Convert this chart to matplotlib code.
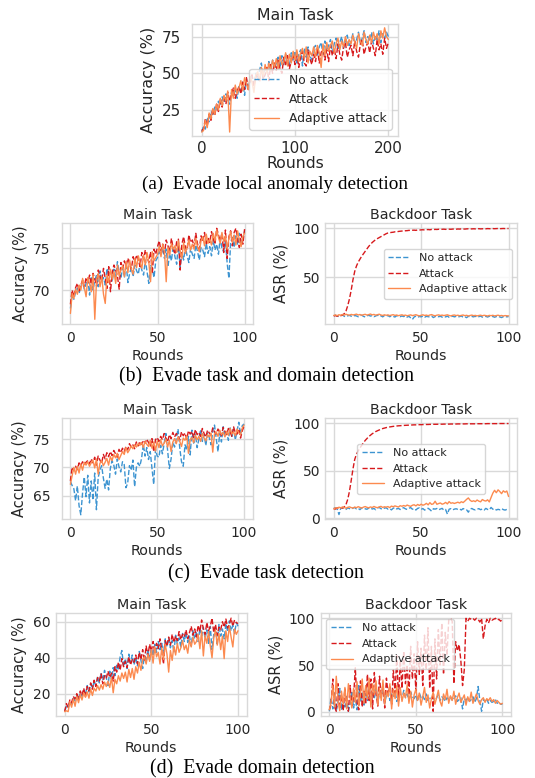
import numpy as np
import matplotlib
matplotlib.use("Agg")
import matplotlib.pyplot as plt
import seaborn as sns

sns.set_style("whitegrid")
plt.rcParams["font.family"] = ["DejaVu Sans"]

# ---------------- data ----------------
labels = ["No attack", "Attack", "Adaptive attack"]

# (a) rounds 0..200 step 2
a_no = [10, 14, 12, 20, 17, 24, 22, 27, 25, 31,
        28, 34, 30, 36, 32, 29, 37, 34, 40, 33,
        41, 37, 44, 35, 46, 40, 45, 48, 42, 50,
        46, 52, 57, 47, 55, 50, 58, 51, 59, 53,
        57, 61, 54, 62, 56, 63, 58, 55, 64, 59,
        65, 57, 63, 66, 55, 67, 61, 68, 62, 59,
        67, 69, 62, 68, 71, 63, 72, 65, 69, 73,
        64, 70, 74, 66, 71, 75, 67, 72, 76, 68,
        72, 77, 69, 73, 78, 70, 74, 79, 71, 75,
        72, 78, 70, 76, 73, 79, 71, 77, 74, 78,
        75]
a_att = [11, 12, 19, 14, 22, 18, 26, 21, 29, 24,
         32, 27, 35, 29, 37, 31, 36, 40, 33, 38,
         41, 36, 44, 39, 47, 38, 46, 49, 41, 47,
         50, 44, 52, 46, 49, 54, 45, 56, 50, 57,
         52, 59, 53, 50, 61, 55, 62, 53, 58, 63,
         56, 64, 54, 61, 65, 57, 55, 66, 60, 56,
         63, 58, 67, 57, 64, 68, 59, 66, 58, 69,
         62, 67, 60, 70, 63, 59, 68, 71, 61, 66,
         69, 62, 72, 65, 61, 70, 73, 63, 68, 71,
         64, 72, 67, 62, 73, 66, 70, 63, 74, 67,
         71]
a_ada = [10, 11, 18, 13, 23, 19, 26, 22, 29, 25,
         33, 28, 35, 31, 38, 10, 39, 33, 42, 36,
         40, 45, 38, 47, 43, 39, 48, 44, 37, 49,
         51, 45, 54, 48, 56, 50, 57, 52, 59, 54,
         60, 53, 62, 56, 58, 64, 55, 63, 57, 65,
         59, 66, 58, 64, 67, 60, 68, 57, 65, 62,
         68, 61, 69, 64, 54, 70, 62, 71, 65, 69,
         72, 64, 70, 74, 66, 72, 68, 75, 69, 73,
         70, 76, 71, 67, 77, 72, 69, 78, 73, 70,
         76, 71, 78, 73, 77, 70, 79, 74, 81, 75,
         73]

# (b) main task
b_main_no = [67.8, 69.5, 68.9, 69.8, 70.2, 69.6, 70.5, 71.0, 70.1, 70.8,
             71.3, 69.4, 71.6, 70.0, 71.2, 71.8, 70.4, 72.3, 71.0, 71.5,
             70.6, 72.6, 71.8, 72.2, 71.0, 72.5, 71.6, 73.4, 72.0, 71.4,
             72.8, 71.5, 73.2, 70.9, 72.0, 72.7, 71.6, 73.0, 72.3, 71.9,
             73.3, 72.4, 71.8, 73.6, 72.2, 70.8, 73.0, 72.6, 71.5, 73.5,
             73.9, 74.6, 74.2, 75.0, 73.8, 74.9, 72.8, 74.4, 73.5, 75.3,
             74.0, 73.1, 75.6, 72.7, 74.5, 73.6, 75.2, 74.1, 73.3, 75.0,
             74.3, 73.8, 75.4, 74.6, 73.6, 75.1, 74.8, 74.0, 75.6, 74.4,
             75.2, 74.1, 76.0, 74.8, 75.5, 74.3, 76.2, 75.0, 74.6, 75.9,
             73.2, 71.4, 75.8, 76.3, 75.1, 76.5, 75.4, 76.8, 75.7, 76.2,
             77.0]
b_main_att = [68.3, 70.0, 69.2, 70.3, 70.8, 69.8, 70.6, 71.2, 70.4, 71.5,
              70.9, 71.8, 70.7, 72.0, 71.3, 70.5, 72.4, 71.6, 71.1, 72.6,
              71.4, 70.2, 72.8, 69.8, 72.1, 73.0, 72.4, 71.7, 70.1, 73.3,
              72.6, 73.5, 72.9, 73.8, 73.1, 72.5, 74.0, 73.4, 74.2, 73.6,
              72.8, 74.5, 73.7, 74.8, 74.0, 73.3, 74.6, 72.0, 74.9, 74.3,
              75.2, 75.9, 74.7, 75.5, 74.4, 76.0, 75.3, 74.6, 76.2, 75.0,
              74.3, 75.8, 76.1, 72.4, 75.5, 76.4, 75.1, 74.8, 76.6, 75.7,
              76.0, 75.2, 76.8, 75.5, 74.9, 76.5, 75.8, 76.9, 75.4, 76.3,
              75.7, 77.0, 76.2, 75.5, 77.4, 76.6, 75.9, 76.8, 74.5, 77.2,
              73.8, 76.4, 77.1, 75.3, 76.9, 77.4, 76.0, 75.1, 76.7, 75.5,
              77.3]
b_main_ada = [67.2, 69.6, 69.0, 70.1, 69.5, 70.6, 70.0, 71.4, 70.3, 69.2,
              71.5, 70.8, 69.8, 71.9, 66.5, 71.2, 72.0, 70.4, 71.6, 69.5,
              68.4, 71.8, 70.9, 72.5, 71.3, 72.2, 70.8, 73.0, 71.7, 72.4,
              72.9, 71.6, 73.4, 72.1, 73.6, 72.5, 71.9, 73.8, 72.7, 74.1,
              73.3, 72.6, 74.2, 73.0, 74.5, 73.4, 71.0, 74.6, 73.5, 73.9,
              74.3, 75.2, 74.0, 75.5, 74.6, 71.0, 75.1, 74.2, 75.6, 74.9,
              75.3, 74.5, 75.9, 74.7, 73.8, 75.7, 74.4, 75.2, 76.0, 74.8,
              75.5, 74.9, 76.2, 75.1, 74.6, 75.9, 76.4, 75.3, 76.7, 75.6,
              76.1, 75.4, 76.8, 75.9, 77.2, 76.3, 75.6, 76.9, 75.8, 76.5,
              74.9, 76.2, 77.0, 75.7, 76.6, 75.4, 77.1, 76.0, 75.2, 76.4,
              76.8]

# (b) backdoor task
b_bd_no = [10.8, 11.2, 10.4, 9.8, 10.9, 11.5, 10.2, 9.6, 10.7, 11.1,
           10.3, 9.9, 11.0, 10.5, 9.7, 10.8, 11.3, 10.1, 9.5, 10.6,
           11.2, 10.4, 10.9, 9.8, 10.5, 11.4, 10.0, 10.7, 9.6, 10.9,
           10.3, 11.0, 9.7, 10.6, 10.1, 9.4, 10.8, 10.2, 9.8, 10.5,
           9.9, 10.6, 9.3, 10.2, 8.6, 7.0, 9.5, 10.3, 9.1, 10.0,
           9.6, 10.4, 9.2, 10.1, 9.8, 9.4, 10.3, 8.9, 9.9, 10.5,
           9.7, 10.2, 9.3, 10.0, 9.5, 10.4, 9.1, 9.8, 10.3, 9.6,
           10.1, 9.4, 9.9, 10.5, 9.2, 9.7, 8.8, 10.2, 9.5, 10.0,
           9.6, 10.3, 9.1, 9.8, 10.4, 9.3, 9.9, 10.1, 9.4, 10.2,
           9.7, 10.0, 9.2, 9.9, 10.3, 9.5, 8.9, 9.8, 10.1, 9.6,
           9.9]
b_bd_att = [10.5, 11.0, 10.2, 11.3, 10.8, 11.5, 12.8, 15.5, 21.0, 28.0,
            37.0, 47.5, 56.0, 61.5, 65.5, 68.5, 71.5, 74.0, 76.5, 79.0,
            81.5, 83.5, 85.5, 87.0, 88.5, 89.5, 90.5, 91.5, 92.5, 93.5,
            94.5, 95.2, 95.5, 95.8, 96.0, 96.4, 96.3, 96.8, 97.0, 97.2,
            97.1, 97.5, 97.6, 97.9, 97.8, 98.0, 98.1, 97.9, 98.3, 98.2,
            98.4, 98.5, 98.3, 98.6, 98.7, 98.5, 98.8, 98.7, 98.9, 98.8,
            99.0, 98.9, 99.0, 99.1, 98.9, 99.2, 99.1, 99.0, 99.2, 99.3,
            99.1, 99.3, 99.2, 99.4, 99.3, 99.2, 99.4, 99.5, 99.3, 99.4,
            99.5, 99.4, 99.5, 99.6, 99.4, 99.5, 99.6, 99.5, 99.7, 99.6,
            99.5, 99.7, 99.6, 99.7, 99.8, 99.6, 99.7, 99.8, 99.7, 99.8,
            99.8]
b_bd_ada = [11.0, 11.5, 10.8, 11.8, 11.2, 12.0, 11.4, 12.3, 11.7, 11.3,
            12.1, 11.6, 11.9, 12.4, 11.5, 12.0, 11.2, 11.8, 12.2, 11.4,
            11.9, 12.5, 11.6, 12.1, 11.3, 11.8, 12.3, 11.5, 11.0, 11.7,
            11.2, 11.6, 10.9, 11.4, 11.8, 11.1, 11.5, 10.8, 11.3, 11.7,
            11.0, 11.4, 10.7, 11.2, 11.6, 10.9, 11.3, 11.8, 11.1, 10.6,
            11.2, 11.7, 11.0, 11.4, 10.8, 11.5, 11.9, 11.1, 10.7, 11.3,
            11.6, 11.0, 11.4, 10.9, 11.3, 11.7, 11.0, 10.6, 11.2, 11.5,
            10.9, 11.3, 10.7, 11.1, 11.5, 10.8, 11.2, 10.5, 11.0, 11.4,
            10.8, 11.1, 10.6, 11.0, 11.3, 10.7, 11.2, 10.9, 10.5, 11.1,
            10.8, 11.2, 10.6, 10.9, 11.3, 10.7, 11.0, 10.5, 10.9, 10.7,
            10.6]

# (c) main task
c_main_no = [67.5, 66.8, 66.2, 64.1, 66.7, 63.2, 61.6, 65.4, 68.3, 64.8,
             68.6, 63.7, 67.6, 64.2, 69.0, 62.5, 68.2, 69.5, 70.3, 68.1,
             66.3, 67.9, 66.0, 69.8, 71.2, 70.4, 68.8, 71.5, 70.1, 69.2,
             71.0, 70.5, 66.4, 67.2, 70.3, 69.5, 71.3, 66.6, 70.0, 70.8,
             70.2, 71.6, 74.1, 72.0, 73.5, 71.4, 72.8, 69.8, 67.0, 73.2,
             72.0, 71.8, 73.9, 72.4, 74.2, 76.0, 73.0, 69.8, 71.5, 74.5,
             73.6, 75.2, 76.8, 73.4, 71.0, 70.2, 74.0, 73.1, 75.5, 72.2,
             76.6, 74.3, 75.9, 73.5, 75.0, 76.7, 74.6, 75.8, 73.9, 76.1,
             75.3, 74.0, 76.4, 77.5, 75.1, 72.8, 76.0, 74.5, 77.2, 75.6,
             76.3, 74.8, 77.0, 75.5, 76.8, 74.9, 76.5, 78.0, 75.8, 77.4,
             77.7]
c_main_att = [67.6, 70.0, 69.4, 70.2, 69.6, 70.8, 70.3, 71.0, 70.5, 70.9,
              71.2, 70.6, 71.5, 70.8, 71.8, 70.4, 72.0, 71.3, 70.7, 72.3,
              71.5, 72.6, 71.9, 72.8, 72.1, 73.0, 72.4, 71.8, 73.2, 72.6,
              73.4, 72.8, 73.7, 73.1, 74.2, 73.6, 74.0, 73.3, 74.5, 73.8,
              74.6, 74.1, 74.8, 74.3, 75.0, 74.4, 73.7, 75.1, 72.8, 74.9,
              75.3, 74.6, 75.5, 74.9, 76.0, 75.2, 74.5, 75.8, 75.1, 76.2,
              75.4, 76.0, 75.7, 74.8, 76.3, 75.6, 76.1, 75.0, 76.5, 75.9,
              76.4, 75.3, 76.7, 75.8, 76.2, 75.5, 76.9, 76.0, 75.4, 76.6,
              76.1, 75.7, 77.0, 76.3, 75.9, 76.8, 76.2, 75.6, 77.1, 76.4,
              75.8, 76.9, 76.3, 75.5, 77.2, 76.1, 75.9, 76.8, 75.2, 76.5,
              77.3]
c_main_ada = [67.0, 68.5, 70.0, 68.8, 70.2, 69.0, 70.6, 69.5, 70.9, 70.4,
              71.0, 70.2, 70.8, 71.3, 69.9, 71.5, 68.8, 70.7, 71.2, 70.3,
              70.9, 71.6, 70.4, 71.9, 71.2, 72.3, 71.7, 72.5, 71.4, 72.1,
              72.8, 72.3, 73.5, 72.6, 73.1, 73.8, 73.3, 74.0, 73.6, 74.2,
              73.9, 74.4, 73.5, 74.6, 74.1, 73.7, 74.8, 73.4, 74.5, 72.9,
              74.7, 73.5, 74.9, 73.8, 74.3, 75.0, 73.6, 74.8, 72.8, 74.5,
              75.1, 74.2, 75.4, 74.6, 73.7, 75.2, 74.8, 75.6, 72.5, 74.9,
              75.3, 74.4, 75.7, 74.9, 75.5, 74.6, 76.0, 75.2, 74.7, 75.8,
              75.4, 76.1, 72.7, 75.9, 76.3, 75.5, 76.6, 75.8, 76.2, 75.4,
              76.4, 75.7, 76.9, 75.9, 76.3, 75.6, 76.8, 76.1, 75.8, 77.0,
              77.5]

# (c) backdoor task
c_bd_no = [10.5, 11.2, 9.8, 4.0, 10.6, 11.5, 10.1, 9.4, 11.0, 10.3,
           9.7, 10.8, 11.4, 9.9, 10.5, 9.2, 10.9, 11.3, 10.0, 9.6,
           10.7, 11.2, 9.8, 10.4, 9.1, 10.9, 11.5, 10.2, 9.5, 10.8,
           11.1, 9.7, 10.3, 8.9, 10.6, 11.4, 9.9, 10.5, 9.3, 10.8,
           11.2, 10.0, 9.4, 10.7, 11.3, 9.6, 10.2, 8.8, 10.5, 11.0,
           9.5, 10.3, 8.7, 9.9, 10.6, 9.2, 7.5, 10.1, 9.7, 10.4,
           9.0, 9.8, 10.5, 8.6, 9.3, 4.5, 9.6, 10.2, 8.9, 9.7,
           10.1, 9.4, 9.9, 8.8, 10.3, 9.5, 9.0, 6.5, 9.8, 10.4,
           9.3, 8.9, 9.7, 10.2, 9.1, 9.8, 8.7, 10.5, 9.4, 9.0,
           11.5, 9.6, 10.1, 8.8, 9.5, 9.0, 10.3, 9.2, 8.7, 9.4,
           8.9]
c_bd_att = [10.2, 9.8, 11.0, 10.5, 11.3, 10.8, 12.0, 14.5, 20.0, 28.5,
            40.0, 52.0, 62.0, 67.5, 71.0, 74.0, 77.0, 79.5, 82.0, 84.0,
            86.0, 87.5, 89.0, 90.2, 91.3, 92.2, 93.0, 93.8, 94.5, 95.0,
            95.5, 95.9, 96.2, 96.5, 96.8, 97.0, 97.2, 97.4, 97.5, 97.7,
            97.8, 97.9, 98.0, 98.1, 98.2, 98.3, 98.4, 98.4, 98.5, 98.6,
            98.6, 98.7, 98.7, 98.8, 98.8, 98.9, 98.9, 99.0, 99.0, 99.0,
            99.1, 99.1, 99.1, 99.2, 99.2, 99.2, 99.2, 99.3, 99.3, 99.3,
            99.3, 99.4, 99.4, 99.4, 99.4, 99.4, 99.5, 99.5, 99.5, 99.5,
            99.5, 99.5, 99.6, 99.6, 99.6, 99.6, 99.6, 99.6, 99.7, 99.7,
            99.7, 99.7, 99.7, 99.7, 99.7, 99.8, 99.8, 99.8, 99.8, 99.8,
            99.8]
c_bd_ada = [10.0, 11.2, 10.5, 11.8, 10.9, 12.0, 11.4, 10.7, 11.6, 12.1,
            11.3, 10.8, 11.9, 11.2, 12.3, 11.5, 10.9, 11.8, 12.4, 11.6,
            11.1, 12.0, 11.4, 12.5, 11.7, 11.2, 12.1, 12.6, 11.5, 12.2,
            11.8, 12.4, 11.3, 12.9, 12.2, 13.1, 12.5, 11.9, 13.3, 12.7,
            13.5, 12.8, 14.0, 13.2, 12.6, 13.8, 14.3, 13.1, 14.6, 13.6,
            14.9, 13.8, 14.5, 15.8, 14.2, 16.5, 14.7, 15.3, 18.0, 14.8,
            15.6, 16.2, 14.9, 15.5, 16.8, 15.2, 17.6, 15.9, 16.4, 15.7,
            16.3, 17.0, 16.1, 17.5, 16.6, 18.2, 20.0, 21.5, 19.0, 17.8,
            18.5, 17.6, 19.3, 18.1, 17.4, 19.8, 18.7, 18.2, 19.5, 17.3,
            22.0, 26.5, 29.5, 27.0, 30.0, 28.2, 26.0, 29.0, 27.5, 28.8,
            23.0]

# (d) main task
d_main_no = [10.5, 13.0, 12.0, 15.5, 14.0, 17.5, 16.0, 19.0, 17.0, 20.5,
             18.5, 22.0, 19.5, 24.5, 21.0, 25.5, 23.0, 27.0, 24.5, 29.5,
             26.0, 31.5, 27.5, 33.0, 29.0, 24.5, 32.5, 28.0, 34.5, 30.0,
             36.5, 33.0, 40.5, 44.0, 35.0, 39.5, 34.0, 42.0, 37.0, 41.5,
             36.0, 40.0, 35.5, 43.5, 38.5, 34.0, 41.0, 37.5, 44.5, 39.0,
             45.5, 41.0, 47.5, 43.0, 49.0, 44.5, 48.0, 42.0, 50.5, 46.0,
             51.0, 45.5, 49.5, 43.0, 52.5, 47.5, 51.0, 46.0, 53.5, 49.0,
             54.0, 48.5, 52.0, 46.5, 55.0, 50.5, 54.5, 49.0, 56.5, 52.0,
             57.0, 50.5, 55.5, 48.0, 57.5, 44.5, 53.0, 56.5, 47.0, 58.5,
             52.0, 56.0, 50.5, 59.0, 54.5, 60.5, 55.0, 58.0, 53.5, 59.5,
             57.5]
d_main_att = [10.0, 14.5, 12.5, 16.5, 15.0, 18.5, 17.0, 20.0, 16.5, 21.5,
              19.0, 23.0, 18.5, 24.0, 21.5, 26.0, 22.5, 27.5, 24.0, 29.0,
              27.0, 31.0, 25.5, 30.0, 28.5, 32.5, 29.0, 31.5, 27.0, 35.0,
              32.0, 37.5, 33.0, 39.5, 35.0, 38.0, 34.5, 40.5, 36.0, 39.0,
              37.5, 41.5, 36.5, 43.0, 39.0, 44.5, 38.0, 46.5, 41.0, 47.5,
              43.5, 49.0, 42.5, 48.0, 45.0, 50.5, 44.0, 36.5, 49.5, 46.5,
              51.5, 47.0, 53.0, 48.5, 52.0, 49.5, 54.5, 50.0, 53.0, 51.5,
              55.5, 50.5, 54.0, 57.5, 52.5, 56.0, 51.5, 58.0, 54.5, 61.0,
              56.0, 53.0, 59.5, 55.0, 57.5, 62.0, 54.0, 58.5, 52.5, 57.0,
              55.5, 60.0, 57.0, 61.5, 56.5, 58.5, 62.0, 57.5, 61.0, 59.5,
              59.0]
d_main_ada = [10.0, 10.5, 10.0, 15.5, 12.5, 17.0, 13.0, 18.5, 15.0, 19.5,
              16.5, 20.5, 18.0, 21.0, 17.5, 22.5, 19.0, 23.0, 21.5, 24.5,
              22.0, 25.0, 22.5, 26.5, 24.0, 27.0, 23.5, 29.0, 20.5, 28.0,
              25.5, 30.0, 27.0, 31.5, 28.5, 32.0, 26.5, 33.5, 29.0, 34.0,
              28.0, 35.0, 31.5, 37.5, 33.0, 39.0, 40.5, 36.5, 42.0, 38.0,
              44.5, 37.0, 46.0, 40.5, 43.0, 36.5, 45.5, 39.0, 47.5, 42.0,
              32.0, 44.0, 38.5, 46.5, 41.5, 48.0, 43.0, 45.5, 49.5, 44.5,
              47.0, 42.5, 50.0, 46.0, 51.5, 47.5, 49.0, 53.0, 45.0, 55.0,
              41.0, 52.5, 48.0, 54.5, 46.5, 40.0, 51.0, 55.5, 47.0, 53.5,
              44.5, 52.0, 39.5, 55.0, 49.0, 57.5, 51.5, 46.0, 56.0, 53.0,
              55.0]

# (d) backdoor task
d_bd_no = [0.5, 15.0, 3.0, 20.0, 1.0, 10.0, 25.0, 2.0, 12.0, 5.0,
           18.0, 0.5, 8.0, 22.0, 4.0, 15.0, 2.0, 28.0, 10.0, 20.0,
           6.0, 25.0, 12.0, 30.0, 8.0, 22.0, 14.0, 27.0, 10.0, 20.0,
           16.0, 24.0, 9.0, 18.0, 21.0, 12.0, 19.0, 15.0, 22.0, 11.0,
           17.0, 20.0, 13.0, 23.0, 15.0, 19.0, 12.0, 21.0, 16.0, 14.0,
           18.0, 11.0, 20.0, 15.0, 17.0, 13.0, 19.0, 12.0, 16.0, 14.0,
           17.0, 10.0, 15.0, 18.0, 12.0, 16.0, 14.0, 11.0, 15.0, 13.0,
           16.0, 12.0, 14.0, 17.0, 11.0, 13.0, 15.0, 3.0, 14.0, 12.0,
           15.0, 11.0, 13.0, 16.0, 10.0, 14.0, 27.0, 12.0, 0.5, 13.0,
           11.0, 14.0, 9.0, 12.0, 10.0, 11.0, 13.0, 9.0, 10.0, 8.0,
           8.0]
d_bd_att = [2.0, 8.0, 35.0, 5.0, 0.5, 30.0, 3.0, 18.0, 1.0, 25.0,
            4.0, 0.5, 28.0, 6.0, 15.0, 47.0, 10.0, 2.0, 33.0, 5.0,
            22.0, 8.0, 40.0, 12.0, 35.0, 3.0, 42.0, 20.0, 6.0, 38.0,
            15.0, 30.0, 4.0, 36.0, 18.0, 28.0, 8.0, 45.0, 20.0, 60.0,
            12.0, 55.0, 25.0, 65.0, 30.0, 50.0, 18.0, 70.0, 35.0, 62.0,
            22.0, 75.0, 40.0, 68.0, 28.0, 82.0, 45.0, 90.0, 25.0, 70.0,
            0.5, 78.0, 35.0, 88.0, 50.0, 95.0, 40.0, 85.0, 60.0, 98.0,
            100.0, 97.0, 30.0, 75.0, 65.0, 72.0, 55.0, 28.0, 45.0, 100.0,
            97.0, 100.0, 99.0, 100.0, 98.0, 100.0, 99.0, 96.0, 100.0, 78.0,
            92.0, 99.0, 95.0, 100.0, 98.0, 99.0, 100.0, 98.0, 99.0, 97.0,
            99.0]
d_bd_ada = [2.0, 10.0, 28.0, 5.0, 38.0, 12.0, 1.0, 22.0, 8.0, 26.0,
            3.0, 30.0, 15.0, 4.0, 25.0, 10.0, 32.0, 6.0, 20.0, 35.0,
            9.0, 28.0, 14.0, 36.0, 5.0, 30.0, 18.0, 33.0, 7.0, 25.0,
            12.0, 34.0, 8.0, 22.0, 16.0, 30.0, 3.0, 24.0, 14.0, 28.0,
            6.0, 26.0, 11.0, 20.0, 15.0, 29.0, 9.0, 22.0, 5.0, 18.0,
            24.0, 12.0, 20.0, 7.0, 16.0, 26.0, 10.0, 18.0, 4.0, 14.0,
            21.0, 8.0, 15.0, 23.0, 11.0, 6.0, 19.0, 13.0, 24.0, 9.0,
            17.0, 12.0, 22.0, 8.0, 15.0, 20.0, 10.0, 14.0, 18.0, 7.0,
            16.0, 11.0, 21.0, 9.0, 14.0, 19.0, 12.0, 8.0, 13.0, 15.0,
            10.0, 14.0, 12.0, 15.0, 11.0, 13.0, 9.0, 12.0, 10.0, 8.0,
            9.0]

captions = ["(a)  Evade local anomaly detection",
            "(b)  Evade task and domain detection",
            "(c)  Evade task detection",
            "(d)  Evade domain detection"]

# ---------------- styling ----------------
COL_NO = "#3d94d1"
COL_ATT = "#d7191c"
COL_ADA = "#fc8a4f"
W, H = 535, 778
fig = plt.figure(figsize=(W / 100, H / 100), dpi=100)


def add_ax(l, t, r, b):
    return fig.add_axes([l / W, 1 - b / H, (r - l) / W, (b - t) / H])


def draw(ax, series, step, title, ylabel, xticks, yticks, xlim, ylim,
         fs, ypad, legend=None, leg_fs=8.0, xlpad=3, xpad=5.0):
    for y, lab, col, ls in zip(series, labels, [COL_NO, COL_ATT, COL_ADA],
                               ["--", "--", "-"]):
        x = np.arange(len(y)) * step
        ax.plot(x, y, color=col, ls=ls, lw=1.0, label=lab)
    ax.set_xlim(*xlim)
    ax.set_ylim(*ylim)
    ax.set_xticks(xticks)
    ax.set_yticks(yticks)
    ax.tick_params(axis="x", labelsize=fs, pad=xpad, length=0)
    ax.tick_params(axis="y", labelsize=fs, pad=ypad, length=0)
    ax.set_title(title, fontsize=fs + 0.3, pad=3, color="#262626")
    ax.set_xlabel("Rounds", fontsize=fs + 0.3, labelpad=xlpad, color="#262626")
    ax.set_ylabel(ylabel, fontsize=fs + 0.5, labelpad=4, color="#262626")
    ax.grid(True, color="#d9d9d9", lw=1.0)
    for s in ax.spines.values():
        s.set_color("#d9d9d9")
        s.set_linewidth(1.0)
    if legend:
        ax.legend(loc=legend, fontsize=leg_fs, frameon=True, framealpha=0.8,
                  edgecolor="#cccccc", borderaxespad=0.5)


# (a)
ax = add_ax(192.3, 24, 397.7, 136)
draw(ax, [a_no, a_att, a_ada], 2, "Main Task", "Accuracy (%)", [0, 100, 200],
     [25, 50, 75], (-10, 210), (7.3, 83.6), 11.0, 8.0, "lower right", 8.9,
     xlpad=0, xpad=3.5)

# (b)
ax = add_ax(61.7, 223.3, 253.3, 324.3)
draw(ax, [b_main_no, b_main_att, b_main_ada], 1, "Main Task", "Accuracy (%)",
     [0, 50, 100], [70, 75], (-5, 105), (65.9, 78.0), 10, 8.0)
ax = add_ax(325, 223.3, 517.3, 324.3)
draw(ax, [b_bd_no, b_bd_att, b_bd_ada], 1, "Backdoor Task", "ASR (%)",
     [0, 50, 100], [50, 100], (-5, 105), (2, 105.1), 10, 3.5, "center right")

# (c)
ax = add_ax(61.7, 418.3, 252.7, 519.3)
draw(ax, [c_main_no, c_main_att, c_main_ada], 1, "Main Task", "Accuracy (%)",
     [0, 50, 100], [65, 70, 75], (-5, 105), (60.8, 78.7), 10, 8.0)
ax = add_ax(325, 418.3, 517.3, 519.3)
draw(ax, [c_bd_no, c_bd_att, c_bd_ada], 1, "Backdoor Task", "ASR (%)",
     [0, 50, 100], [0, 50, 100], (-5, 105), (-1, 105.3), 10, 3.5, "center")

# (d)
ax = add_ax(56, 613.3, 246.7, 716)
draw(ax, [d_main_no, d_main_att, d_main_ada], 1, "Main Task", "Accuracy (%)",
     [0, 50, 100], [20, 40, 60], (-5, 105), (7.6, 64.7), 10, 4.0)
ax = add_ax(320.7, 613.3, 511, 716)
draw(ax, [d_bd_no, d_bd_att, d_bd_ada], 1, "Backdoor Task", "ASR (%)",
     [0, 50, 100], [0, 50, 100], (-5, 105), (-4.6, 105.4), 10, 4.0, "upper left")

# captions
cap_pos = [(274.5, 189), (266.5, 381.7), (266, 578.3), (262, 773.3)]
cap_fs = [13.8, 14.2, 14.2, 14.2]
for txt, (cx, cy), cfs in zip(captions, cap_pos, cap_fs):
    fig.text(cx / W, 1 - cy / H, txt, ha="center", va="baseline",
             fontsize=cfs, family="Liberation Serif", color="black")

fig.savefig("out.png", dpi=100)
